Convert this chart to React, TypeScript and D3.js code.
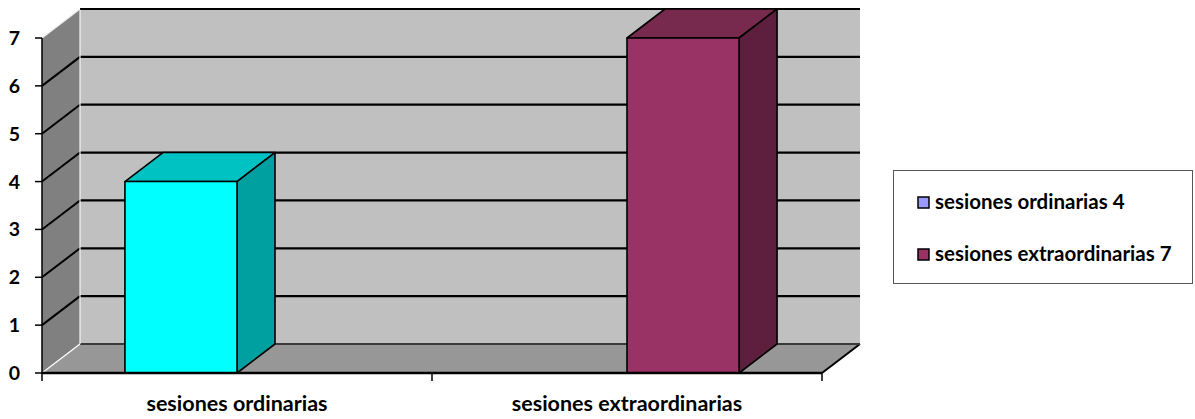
import * as d3 from "d3";

// chart data
const categories = ["sesiones ordinarias", "sesiones extraordinarias"];
const seriesNames = ["sesiones ordinarias 4", "sesiones extraordinarias 7"];
const ordinariasValues = [4, 0];
const extraordinariasValues = [0, 7];
const yTicks = [0, 1, 2, 3, 4, 5, 6, 7];

const seriesValues = [ordinariasValues, extraordinariasValues];

// colours: bar faces (front, top, side) and legend swatches
const barColors = [
  { front: "#00FFFF", top: "#00C2C2", side: "#00A0A0" },
  { front: "#993366", top: "#77294E", side: "#5E1F3E" },
];
const legendColors = ["#9999FF", "#993366"];

const W = 1195;
const H = 419;
const plot = { left: 42, right: 822, top: 38, bottom: 373 };
const DX = 38; // depth offset
const DY = -29;
const font = "Lato, 'Noto Sans', sans-serif";

const x = d3.scaleBand<string>().domain(categories).range([plot.left, plot.right]);
const xs = d3
  .scaleBand<string>()
  .domain(seriesNames)
  .range([0, x.bandwidth()])
  .paddingInner(0)
  .paddingOuter(0.74);
const y = d3.scaleLinear().domain([0, 7]).range([plot.bottom, plot.top]);

const pts = (p: number[][]) => p.map((d) => d.join(",")).join(" ");

export default function App() {
  const y0 = y(0);
  const yTop = y(7);
  const backL = plot.left + DX;
  const backR = plot.right + DX;

  return (
    <svg
      width={W}
      height={H}
      style={{ position: "fixed", left: 0, top: 0, background: "#fff" }}
    >
      {/* walls */}
      <rect x={backL} y={yTop + DY} width={backR - backL} height={y0 - yTop} fill="#C0C0C0" />
      <polygon
        points={pts([
          [plot.left, yTop],
          [backL, yTop + DY],
          [backL, y0 + DY],
          [plot.left, y0],
        ])}
        fill="#808080"
      />
      <polygon
        points={pts([
          [plot.left, y0],
          [plot.right, y0],
          [backR, y0 + DY],
          [backL, y0 + DY],
        ])}
        fill="#979797"
      />
      <line x1={plot.right} y1={y0} x2={backR} y2={y0 + DY} stroke="#000" strokeWidth={2} />

      {/* gridlines */}
      {yTicks.map((t) => (
        <g key={t}>
          <line
            x1={backL}
            x2={backR}
            y1={y(t) + DY}
            y2={y(t) + DY}
            stroke={t === 0 ? "#3a3a3a" : "#000"}
            strokeWidth={2.2}
          />
          {t > 0 && t < 7 && (
            <line x1={plot.left} y1={y(t)} x2={backL} y2={y(t) + DY} stroke="#000" strokeWidth={2} />
          )}
        </g>
      ))}
      {/* light wall edges */}
      <line x1={plot.left} y1={yTop} x2={backL} y2={yTop + DY} stroke="#f0f0f0" strokeWidth={1.2} />
      <line x1={plot.left} y1={y0} x2={backL} y2={y0 + DY} stroke="#fff" strokeWidth={1.2} />
      <line x1={backL} y1={yTop + DY + 1} x2={backL} y2={y0 + DY} stroke="#f4f4f4" strokeWidth={1.2} />

      {/* bars */}
      {seriesValues.map((vals, si) =>
        vals.map((v, ci) => {
          if (!v) return null;
          const bx = (x(categories[ci]) ?? 0) + (xs(seriesNames[si]) ?? 0);
          const bw = xs.bandwidth();
          const by = y(v);
          const c = barColors[si];
          return (
            <g key={`${si}-${ci}`} stroke="#000" strokeWidth={1.6} strokeLinejoin="round">
              <polygon
                points={pts([
                  [bx, by],
                  [bx + DX, by + DY],
                  [bx + bw + DX, by + DY],
                  [bx + bw, by],
                ])}
                fill={c.top}
              />
              <polygon
                points={pts([
                  [bx + bw, by],
                  [bx + bw + DX, by + DY],
                  [bx + bw + DX, y0 + DY],
                  [bx + bw, y0],
                ])}
                fill={c.side}
              />
              <rect x={bx} y={by} width={bw} height={y0 - by} fill={c.front} />
            </g>
          );
        })
      )}

      {/* value axis */}
      <line x1={plot.left} x2={plot.left} y1={yTop} y2={y0} stroke="#000" strokeWidth={1.5} />
      {yTicks.map((t) => (
        <g key={t}>
          <line x1={plot.left - 7} x2={plot.left} y1={y(t)} y2={y(t)} stroke="#000" strokeWidth={1.5} />
          <text
            x={20}
            y={y(t)}
            dy="0.36em"
            textAnchor="end"
            fontFamily={font}
            fontWeight="bold"
            fontSize={19.5}
            fill="#000"
          >
            {t}
          </text>
        </g>
      ))}

      {/* category axis */}
      <line x1={plot.left} x2={plot.right} y1={y0} y2={y0} stroke="#000" strokeWidth={2.5} />
      {[...categories.map((c) => x(c) ?? 0), plot.right].map((tx, i) => (
        <line key={i} x1={tx} x2={tx} y1={y0} y2={y0 + 8} stroke="#000" strokeWidth={1.5} />
      ))}
      {categories.map((c) => (
        <text
          key={c}
          x={(x(c) ?? 0) + x.bandwidth() / 2}
          y={411}
          textAnchor="middle"
          fontFamily={font}
          fontWeight="bold"
          fontSize={21.5}
          fill="#000"
        >
          {c}
        </text>
      ))}

      {/* legend */}
      <rect x={893.5} y={170.5} width={299} height={113} fill="#fff" stroke="#555" strokeWidth={1} />
      {seriesNames.map((s, i) => (
        <g key={s} transform={`translate(918, ${197 + i * 52})`}>
          <rect x={0} y={0} width={11} height={11} fill={legendColors[i]} stroke="#000" strokeWidth={1.5} />
          <text x={17} y={12} fontFamily={font} fontWeight="bold" fontSize={20.5} fill="#000">
            {s}
          </text>
        </g>
      ))}
    </svg>
  );
}
